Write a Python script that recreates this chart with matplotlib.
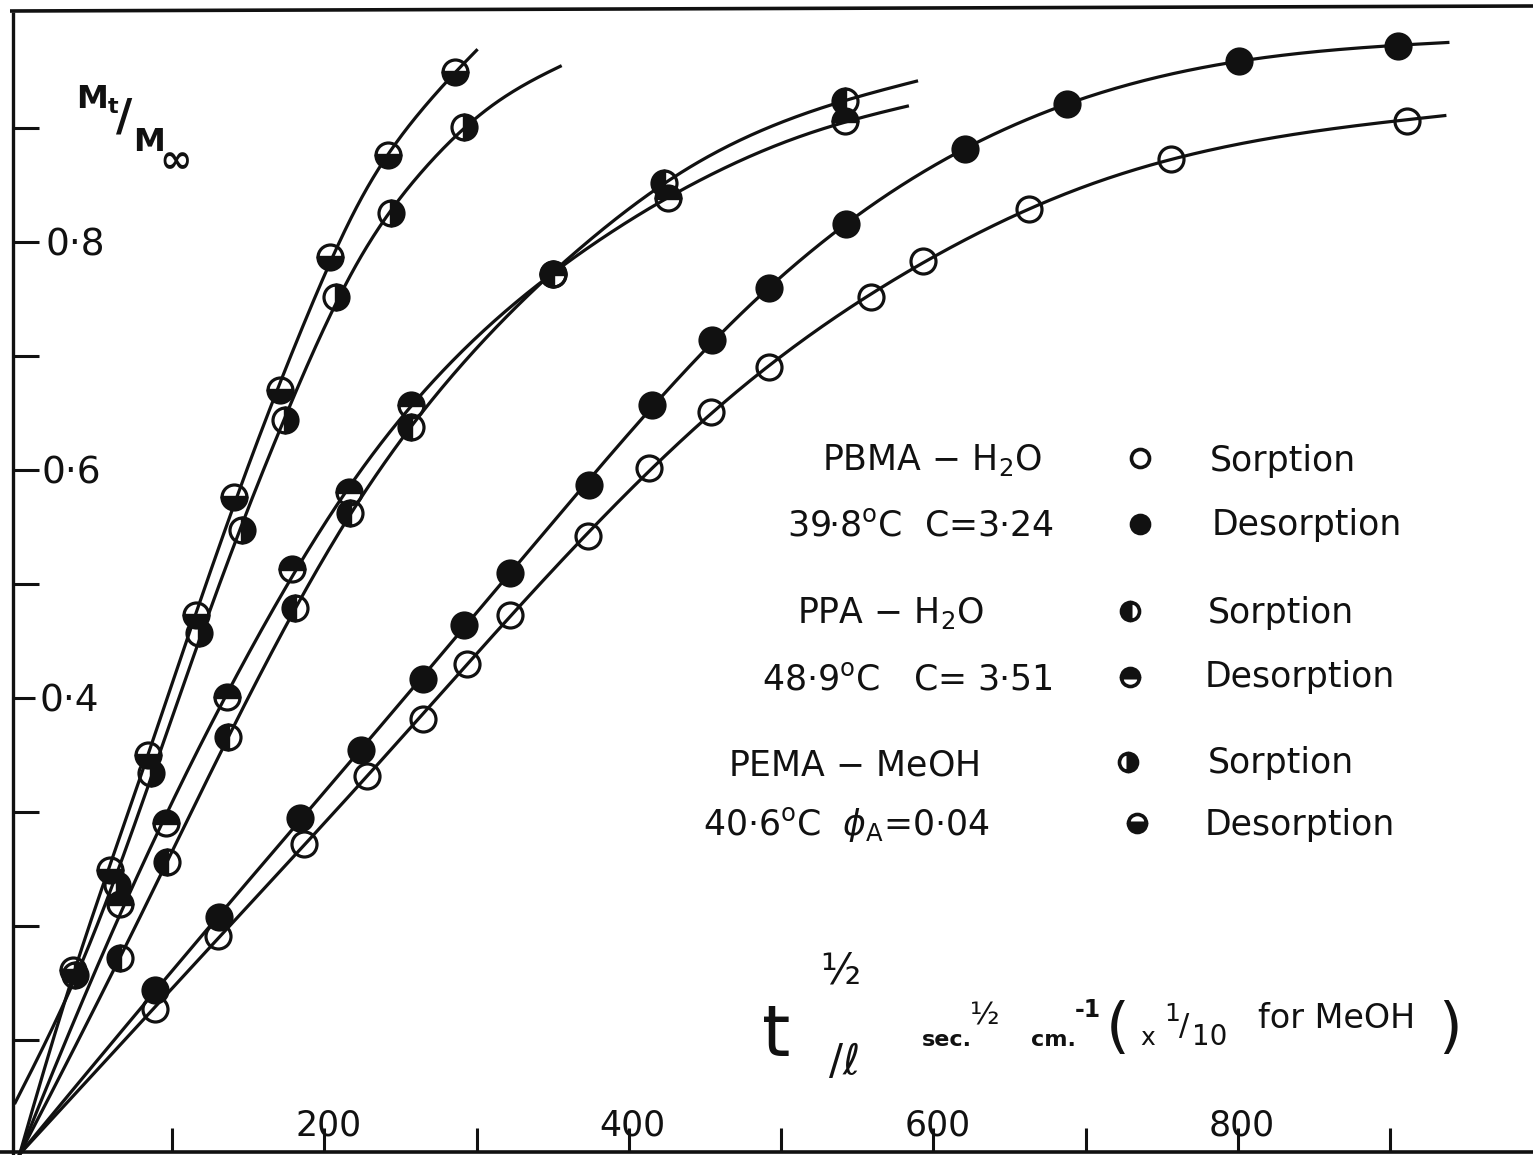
import numpy as np
import matplotlib
matplotlib.use("Agg")
import matplotlib.pyplot as plt
from matplotlib.lines import Line2D

# ---------------------------------------------------------------------------
# Data: fractional uptake Mt/Minf against t^1/2 / l  (sec^1/2 cm^-1)
# ---------------------------------------------------------------------------
pbma_sorp_x = [89, 130, 187, 228, 265, 294, 322, 373, 413, 454, 492, 559, 593, 663, 756, 911]
pbma_sorp_y = [0.127, 0.191, 0.272, 0.332, 0.382, 0.430, 0.473, 0.542, 0.602, 0.651,
               0.690, 0.752, 0.783, 0.829, 0.873, 0.906]
pbma_des_x = [89, 131, 184, 224, 265, 292, 322, 374, 415, 455, 492, 543, 621, 688, 801, 905]
pbma_des_y = [0.144, 0.208, 0.295, 0.354, 0.417, 0.464, 0.510, 0.587, 0.657, 0.714,
              0.760, 0.816, 0.882, 0.921, 0.959, 0.972]

ppa_sorp_x = [66, 97, 137, 181, 217, 257, 350, 423, 542]
ppa_sorp_y = [0.172, 0.256, 0.366, 0.479, 0.562, 0.638, 0.772, 0.852, 0.924]
ppa_des_x = [66, 96, 136, 179, 216, 257, 350, 426, 542]
ppa_des_y = [0.219, 0.290, 0.401, 0.513, 0.581, 0.657, 0.772, 0.839, 0.906]

pema_sorp_x = [36, 64, 86, 118, 146, 174, 208, 244, 292]
pema_sorp_y = [0.157, 0.236, 0.334, 0.457, 0.547, 0.644, 0.752, 0.825, 0.901]
pema_des_x = [35, 59, 84, 116, 141, 171, 204, 242, 286]
pema_des_y = [0.161, 0.249, 0.350, 0.473, 0.576, 0.670, 0.787, 0.876, 0.949]

# start and end of each hand-fitted curve (x, y)
pbma_sorp_span = [(0, 0.0), (936, 0.911)]
pbma_des_span = [(0, 0.0), (938, 0.975)]
ppa_sorp_span = [(0, 0.0), (589, 0.941)]
ppa_des_span = [(0, 0.0), (583, 0.919)]
pema_sorp_span = [(-3, 0.045), (355, 0.954)]
pema_des_span = [(0, 0.0), (300, 0.968)]

x_ticks = [100, 200, 300, 400, 500, 600, 700, 800, 900]
x_tick_labels = {200: "200", 400: "400", 600: "600", 800: "800"}
y_ticks = [0.1, 0.2, 0.3, 0.4, 0.5, 0.6, 0.7, 0.8, 0.9]
y_tick_labels = {0.4: "0·4", 0.6: "0·6", 0.8: "0·8"}

# ---------------------------------------------------------------------------
W, H, DPI = 1533, 1155, 100
X0_PX, X_SCALE = 19.75, 1.5225      # pixel column of x=0, pixels per unit
Y0_PX, Y_SCALE = 1154.0, 1140.0     # pixel row of y=0, pixels per unit
INK = "#111111"
FONT = "DejaVu Sans"

plt.rcParams["font.family"] = [FONT]
plt.rcParams["mathtext.fontset"] = "dejavusans"

fig = plt.figure(figsize=(W / DPI, H / DPI), dpi=DPI, facecolor="white")
ax = fig.add_axes([0, 0, 1, 1])
ax.set_xlim((0 - X0_PX) / X_SCALE, (W - X0_PX) / X_SCALE)
ax.set_ylim((Y0_PX - H) / Y_SCALE, Y0_PX / Y_SCALE)
ax.axis("off")


def fp(px, py):
    """pixel position -> figure fraction"""
    return px / W, 1 - py / H


def ftext(px, py, s, size, ha="left", va="baseline", **kw):
    x, y = fp(px, py)
    fig.text(x, y, s, fontsize=size, ha=ha, va=va, color=INK, family=FONT, **kw)


# frame lines (left axis, bottom axis, top border)
for (xa, ya), (xb, yb), lw in [((13, 12), (13, 1155), 2.4),
                               ((0, 1152), (W, 1152), 2.6),
                               ((10, 11), (W, 6), 2.6)]:
    x1, y1 = fp(xa, ya)
    x2, y2 = fp(xb, yb)
    fig.add_artist(Line2D([x1, x2], [y1, y2], color=INK, lw=lw,
                          transform=fig.transFigure, solid_capstyle="butt"))

# ticks
x_axis_left = (13 - X0_PX) / X_SCALE
ax.vlines(x_ticks, (Y0_PX - 1152) / Y_SCALE, (Y0_PX - 1128) / Y_SCALE,
          color=INK, lw=2.2)
for yt in y_ticks:
    length = 22 if yt == 0.4 else 26
    ax.plot([x_axis_left, x_axis_left + length / X_SCALE], [yt, yt],
            color=INK, lw=2.2, solid_capstyle="butt")

for xv, lab in x_tick_labels.items():
    ax.text(xv + 4 / X_SCALE, (Y0_PX - 1136) / Y_SCALE, lab, fontsize=25,
            ha="center", va="baseline", color=INK)
for yv, lab in y_tick_labels.items():
    xpix = 40 if yv == 0.4 else (42 if yv == 0.6 else 46)
    ax.text((xpix - X0_PX) / X_SCALE, yv, lab, fontsize=27, ha="left",
            va="center_baseline", color=INK)


# smooth fitted curves: penalised cubic B-splines (P-splines)
def bspline_basis(x, xl, xr, nseg, deg=3):
    dx = (xr - xl) / nseg
    knots = xl + dx * np.arange(-deg, nseg + deg + 1)
    x = np.clip(np.asarray(x, float), xl, xr - 1e-9)
    B = ((x[:, None] >= knots[None, :-1]) & (x[:, None] < knots[None, 1:])).astype(float)
    for d in range(1, deg + 1):
        left = (x[:, None] - knots[None, :-(d + 1)]) / (knots[d:-1] - knots[:-(d + 1)])
        right = (knots[None, d + 1:] - x[:, None]) / (knots[d + 1:] - knots[1:-d])
        B = left * B[:, :-1] + right * B[:, 1:]
    return B


def fitted_curve(xs, ys, span, nseg=8, lam=0.02):
    (xs0, ys0), (xe, ye) = span
    kx = np.r_[xs0, xs, xe]
    ky = np.r_[ys0, ys, ye]
    w = np.ones_like(kx, dtype=float)
    w[0], w[-1] = 20.0, 5.0
    B = bspline_basis(kx, xs0, xe, nseg)
    D = np.diff(np.eye(B.shape[1]), 2, axis=0)
    A = B.T @ (w[:, None] * B) + lam * D.T @ D
    coef = np.linalg.solve(A, B.T @ (w * ky))
    xx = np.linspace(xs0, xe, 500)
    return xx, bspline_basis(xx, xs0, xe, nseg) @ coef


series = [
    (pbma_sorp_x, pbma_sorp_y, pbma_sorp_span, dict(fillstyle="none")),
    (pbma_des_x, pbma_des_y, pbma_des_span, dict(fillstyle="full")),
    (ppa_sorp_x, ppa_sorp_y, ppa_sorp_span, dict(fillstyle="left")),
    (ppa_des_x, ppa_des_y, ppa_des_span, dict(fillstyle="top")),
    (pema_sorp_x, pema_sorp_y, pema_sorp_span, dict(fillstyle="right")),
    (pema_des_x, pema_des_y, pema_des_span, dict(fillstyle="bottom")),
]

for xs, ys, span, mstyle in series:
    cx, cy = fitted_curve(xs, ys, span)
    ax.plot(cx, cy, color=INK, lw=2.3, zorder=2)
    ax.plot(xs, ys, linestyle="none", marker="o", markersize=18,
            markeredgewidth=2.3, markeredgecolor=INK, markerfacecolor=INK,
            markerfacecoloralt="none", zorder=3, **mstyle)

# legend block
legend_rows = [
    (822, 470, r"PBMA $-$ H$_2$O", 1140, 458, dict(fillstyle="none"), 1210, 471, "Sorption"),
    (787, 535, r"39·8$^{\mathrm{o}}$C  C=3·24", 1140, 524, dict(fillstyle="full"), 1212, 535, "Desorption"),
    (797, 623, r"PPA $-$ H$_2$O", 1130, 611, dict(fillstyle="left"), 1208, 623, "Sorption"),
    (762, 689, r"48·9$^{\mathrm{o}}$C   C= 3·51", 1130, 677, dict(fillstyle="top"), 1205, 687, "Desorption"),
    (728, 775, r"PEMA $-$ MeOH", 1128, 762, dict(fillstyle="right"), 1208, 773, "Sorption"),
    (703, 835, r"40·6$^{\mathrm{o}}$C  $\phi_{\mathrm{A}}$=0·04", 1137, 823, dict(fillstyle="bottom"), 1205, 835, "Desorption"),
]
for tx, ty, label, mx, my, mstyle, sx, sy, kind in legend_rows:
    ftext(tx, ty, label, 25)
    x, y = fp(mx, my)
    fig.add_artist(Line2D([x], [y], linestyle="none", marker="o", markersize=13,
                          markeredgewidth=2.6, markeredgecolor=INK,
                          markerfacecolor=INK, markerfacecoloralt="none",
                          transform=fig.transFigure, **mstyle))
    ftext(sx, sy, kind, 25)

# y-axis title  Mt / Minf
ftext(76, 108, "M", 23, fontweight="bold")
ftext(108, 113, "t", 16, fontweight="bold")
ftext(124, 118, "/", 32, ha="center", va="center", fontweight="bold")
ftext(133, 151, "M", 23, fontweight="bold")
ftext(176, 161, "∞", 28, ha="center", va="center", fontweight="bold")

# x-axis title  t^1/2 / l  sec^1/2 cm^-1 (x 1/10 for MeOH)
ftext(776, 1036, "t", 52, ha="center", va="center")
ftext(840, 972, "½", 30, ha="center", va="center")
ftext(845, 1062, "/ℓ", 30, ha="center", va="center")
ftext(947, 1040, "sec.", 16, ha="center", va="center", fontweight="bold")
ftext(985, 1016, "½", 22, ha="center", va="center")
ftext(1053, 1040, "cm.", 16, ha="center", va="center", fontweight="bold")
ftext(1088, 1010, "-1", 17, ha="center", va="center", fontweight="bold")
ftext(1118, 1030, "(", 44, ha="center", va="center")
ftext(1148, 1038, "x", 18, ha="center", va="center")
ftext(1172, 1014, "1", 18, ha="center", va="center")
ftext(1184, 1027, "/", 22, ha="center", va="center")
ftext(1210, 1037, "10", 20, ha="center", va="center")
ftext(1337, 1018, "for MeOH", 24, ha="center", va="center")
ftext(1450, 1030, ")", 44, ha="center", va="center")

fig.savefig("out.png", dpi=DPI, facecolor="white")
